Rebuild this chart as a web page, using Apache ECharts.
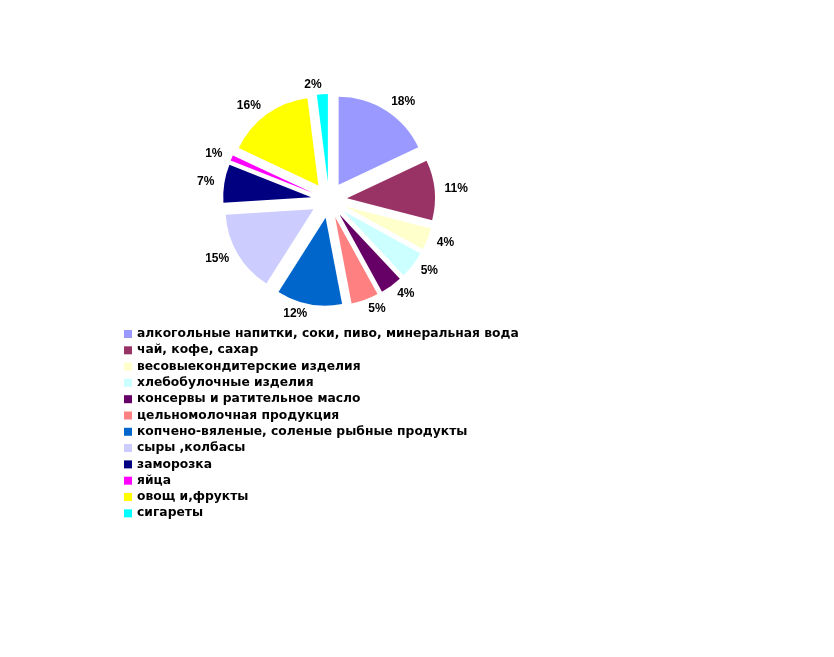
<!DOCTYPE html>
<html>
<head>
<meta charset="utf-8">
<script src="https://cdn.jsdelivr.net/npm/echarts@6/dist/echarts.min.js"></script>
<style>
html,body{margin:0;padding:0;background:#fff;}
#chart{width:834px;height:657px;}
</style>
</head>
<body>
<div id="chart"></div>
<script>
const categories = [
  'алкогольные напитки, соки, пиво, минеральная вода',
  'чай, кофе, сахар',
  'весовыекондитерские изделия',
  'хлебобулочные изделия',
  'консервы и ратительное масло',
  'цельномолочная продукция',
  'копчено-вяленые, соленые рыбные продукты',
  'сыры ,колбасы',
  'заморозка',
  'яйца',
  'овощ и,фрукты',
  'сигареты'
];
const values = [18, 11, 4, 5, 4, 5, 12, 15, 7, 1, 16, 2];
const colors = ['#9999FF', '#993366', '#FFFFCC', '#CCFFFF', '#660066', '#FF8080',
                '#0066CC', '#CCCCFF', '#000080', '#FF00FF', '#FFFF00', '#00FFFF'];

const chart = echarts.init(document.getElementById('chart'), null, {renderer: 'canvas'});
const data = categories.map((name, i) => ({
  name: name,
  value: values[i],
  selected: true,
  itemStyle: {color: colors[i]}
}));

chart.setOption({
  animation: false,
  backgroundColor: '#ffffff',
  legend: {
    orient: 'vertical',
    left: 124,
    top: 327,
    itemWidth: 8,
    itemHeight: 8,
    itemGap: 2.3,
    icon: 'rect',
    selectedMode: false,
    padding: 0,
    textStyle: {
      fontFamily: 'DejaVu Sans',
      fontWeight: 'bold',
      fontSize: 12.3,
      lineHeight: 14,
      color: '#000'
    },
    data: categories
  },
  series: [{
    type: 'pie',
    center: [329, 200],
    radius: [0, 88],
    startAngle: 90,
    clockwise: true,
    selectedMode: 'multiple',
    selectedOffset: 18,
    avoidLabelOverlap: false,
    emphasis: {disabled: true},
    select: {itemStyle: {borderWidth: 0}},
    label: {
      show: true,
      position: 'outside',
      formatter: '{c}%',
      fontFamily: 'Liberation Sans, Arial',
      fontWeight: 'bold',
      fontSize: 12,
      color: '#000',
      distanceToLabelLine: 0
    },
    labelLine: {show: false, length: 10, length2: 0},
    itemStyle: {borderWidth: 0},
    data: data
  }]
});
</script>
</body>
</html>
